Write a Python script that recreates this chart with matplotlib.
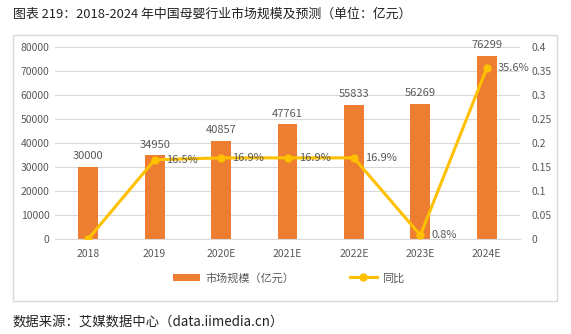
import numpy as np
import matplotlib
matplotlib.use('Agg')
import matplotlib.pyplot as plt
from matplotlib.patches import Rectangle

plt.rcParams['font.family'] = ['Noto Sans CJK SC', 'DejaVu Sans']

# DATOS
years = ['2018', '2019', '2020E', '2021E', '2022E', '2023E', '2024E']
market_size = [30000, 34950, 40857, 47761, 55833, 56269, 76299]
growth = [0.0, 0.165, 0.169, 0.169, 0.169, 0.008, 0.356]
growth_labels = [None, '16.5%', '16.9%', '16.9%', '16.9%', '0.8%', '35.6%']

bar_color = '#ED7D31'
line_color = '#FFC000'
txt_gray = '#595959'

fig = plt.figure(figsize=(5.71, 3.34), dpi=100)

# marco del grafico
fig.patches.append(Rectangle((13/571, 1-301/334), (557-13)/571, (301-35)/334,
                             transform=fig.transFigure, fill=False,
                             edgecolor='#D9D9D9', linewidth=1.0))

ax = fig.add_axes([55/571, 1-239/334, 465/571, 192/334])
x = np.arange(len(years))
bars = ax.bar(x, market_size, width=0.3, color=bar_color, label='市场规模（亿元）', zorder=2)
ax.set_ylim(0, 80000)
ax.set_yticks(np.arange(0, 80001, 10000))
ax.set_xlim(-0.5, len(years) - 0.5)
ax.set_xticks(x)
ax.set_xticklabels(years)
ax.grid(axis='y', color='#D9D9D9', linewidth=0.8, zorder=0)
ax.set_axisbelow(True)
for s in ['top', 'right', 'left']:
    ax.spines[s].set_visible(False)
ax.spines['bottom'].set_color('#D9D9D9')
ax.tick_params(axis='both', length=0, labelsize=7.5, colors=txt_gray, pad=4)
ax.tick_params(axis='x', pad=7)

for xi, v in zip(x, market_size):
    ax.text(xi, v + 2300, str(v), ha='center', va='bottom', fontsize=8, color=txt_gray)

ax2 = ax.twinx()
line, = ax2.plot(x, growth, color=line_color, linewidth=2.2, marker='o',
                 markersize=5, label='同比', zorder=3)
ax2.set_ylim(0, 0.4)
ax2.set_yticks(np.arange(0, 0.41, 0.05))
ax2.set_yticklabels(['0', '0.05', '0.1', '0.15', '0.2', '0.25', '0.3', '0.35', '0.4'])
for s in ['top', 'right', 'left', 'bottom']:
    ax2.spines[s].set_visible(False)
ax2.tick_params(axis='y', length=0, labelsize=7.5, colors=txt_gray, pad=8)

for xi, g, lab in zip(x, growth, growth_labels):
    if lab:
        ax2.text(xi + 0.17, g, lab, ha='left', va='center', fontsize=8, color=txt_gray)

fig.legend(handles=[bars, line], loc='center', bbox_to_anchor=(289/571, 1-278/334),
           ncol=2, frameon=False, fontsize=8, labelcolor=txt_gray,
           handlelength=2.4, columnspacing=5.0, handletextpad=0.5)

fig.text(13/571, 1-14/334, '图表 219：2018-2024 年中国母婴行业市场规模及预测（单位：亿元）',
         ha='left', va='center', fontsize=9.3, color='#222222')
fig.text(13/571, 1-322/334, '数据来源：艾媒数据中心（data.iimedia.cn）',
         ha='left', va='center', fontsize=9.6, color='#222222')

plt.savefig('out.png', dpi=100)
